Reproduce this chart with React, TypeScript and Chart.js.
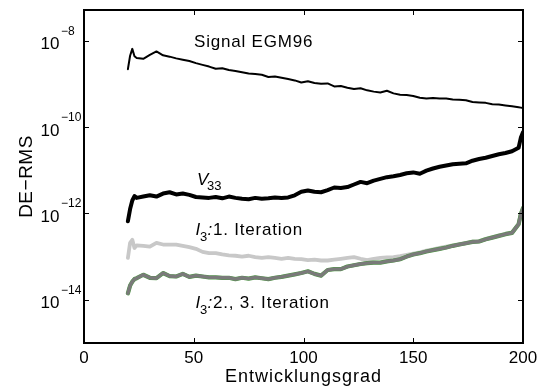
import React, { useEffect, useRef } from "react";
import { Chart, registerables } from "chart.js";

Chart.register(...registerables);

// Spherical-harmonic degree (Entwicklungsgrad)
const degrees = [
  20, 21, 22, 23,
  24, 27, 30, 33, 36, 39,
  42, 45, 48, 51, 54, 57,
  60, 63, 66, 69, 72, 75,
  78, 81, 84, 87, 90, 93,
  96, 99, 102, 105, 108, 111,
  114, 117, 120, 123, 126, 129,
  132, 135, 138, 141, 144, 147,
  150, 153, 156, 159, 162, 165,
  168, 171, 174, 177, 180, 183,
  186, 189, 192, 195, 198,
  199, 200,
];

// log10 of DE-RMS
const signalEGM96Exp = [
  -8.66, -8.35, -8.19, -8.36,
  -8.40, -8.42, -8.33, -8.25, -8.34, -8.37,
  -8.41, -8.44, -8.47, -8.52, -8.56, -8.60,
  -8.65, -8.64, -8.68, -8.70, -8.73, -8.76,
  -8.77, -8.79, -8.84, -8.83, -8.86, -8.89,
  -8.92, -8.97, -8.94, -8.98, -9.00, -8.99,
  -9.06, -9.05, -9.09, -9.12, -9.10, -9.15,
  -9.18, -9.20, -9.16, -9.22, -9.25, -9.26,
  -9.28, -9.32, -9.34, -9.33, -9.34, -9.34,
  -9.36, -9.37, -9.38, -9.42, -9.43, -9.44,
  -9.47, -9.48, -9.50, -9.52, -9.54,
  -9.55, -9.56,
];

const v33Exp = [
  -12.18, -11.90, -11.70, -11.60,
  -11.64, -11.61, -11.58, -11.61, -11.54, -11.51,
  -11.56, -11.54, -11.57, -11.62, -11.63, -11.64,
  -11.62, -11.65, -11.61, -11.64, -11.66, -11.67,
  -11.64, -11.66, -11.65, -11.63, -11.64, -11.63,
  -11.58, -11.50, -11.47, -11.50, -11.51, -11.46,
  -11.40, -11.41, -11.39, -11.33, -11.27, -11.30,
  -11.24, -11.20, -11.16, -11.14, -11.11, -11.07,
  -11.05, -11.08, -11.01, -10.96, -10.92, -10.89,
  -10.86, -10.85, -10.84, -10.78, -10.74, -10.71,
  -10.67, -10.63, -10.60, -10.56, -10.48,
  -10.25, -10.12,
];

const i3Iter1Exp = [
  -13.03, -12.68, -12.61, -12.80,
  -12.74, -12.75, -12.77, -12.68, -12.72, -12.72,
  -12.72, -12.75, -12.78, -12.82, -12.89, -12.92,
  -12.92, -12.95, -12.97, -12.98, -13.00, -12.98,
  -13.01, -13.03, -13.01, -13.03, -13.05, -13.03,
  -13.05, -13.06, -13.08, -13.07, -13.09, -13.09,
  -13.07, -13.05, -13.03, -13.01, -13.05, -13.08,
  -13.05, -13.03, -13.02, -13.01, -12.99, -12.96,
  -12.93, -12.90, -12.86, -12.83, -12.80, -12.77,
  -12.74, -12.71, -12.68, -12.65, -12.64, -12.59,
  -12.55, -12.51, -12.47, -12.44, -12.24,
  -12.01, -11.87,
];

const i3Iter2Exp = [
  -13.85, -13.67, -13.58, -13.52,
  -13.50, -13.42, -13.49, -13.50, -13.38, -13.45,
  -13.46, -13.40, -13.47, -13.44, -13.46, -13.48,
  -13.48, -13.49, -13.49, -13.52, -13.49, -13.51,
  -13.48, -13.50, -13.52, -13.49, -13.47, -13.44,
  -13.41, -13.38, -13.34, -13.40, -13.44, -13.31,
  -13.29, -13.29, -13.23, -13.20, -13.17, -13.15,
  -13.14, -13.14, -13.11, -13.09, -13.06, -13.00,
  -12.95, -12.92, -12.88, -12.85, -12.82, -12.79,
  -12.75, -12.72, -12.69, -12.66, -12.65, -12.60,
  -12.56, -12.52, -12.48, -12.45, -12.25,
  -12.02, -11.88,
];

const i3Iter3Exp = [
  -13.85, -13.67, -13.58, -13.52,
  -13.50, -13.42, -13.49, -13.50, -13.38, -13.45,
  -13.46, -13.40, -13.47, -13.44, -13.46, -13.48,
  -13.48, -13.49, -13.49, -13.52, -13.49, -13.51,
  -13.48, -13.50, -13.52, -13.49, -13.47, -13.44,
  -13.41, -13.38, -13.34, -13.40, -13.44, -13.31,
  -13.29, -13.29, -13.23, -13.20, -13.17, -13.15,
  -13.14, -13.14, -13.11, -13.09, -13.06, -13.00,
  -12.95, -12.92, -12.88, -12.85, -12.82, -12.79,
  -12.75, -12.72, -12.69, -12.66, -12.65, -12.60,
  -12.56, -12.52, -12.48, -12.45, -12.25,
  -12.02, -11.88,
];

const xTicks = [0, 50, 100, 150, 200];
const yTickExps = [-8, -10, -12, -14];
const X_MIN = 0;
const X_MAX = 200;
const Y_MIN_EXP = -15;
const Y_MAX_EXP = -7.29;

const FONT = '"Liberation Sans", Arial, Helvetica, sans-serif';

function toPoints(exps: number[]) {
  return degrees.map((d, i) => ({ x: d, y: Math.pow(10, exps[i]) }));
}

const overlayPlugin = {
  id: "overlay",
  afterDraw(chart: any) {
    const { ctx, chartArea: a, scales } = chart;
    const xs = scales.x;
    const ys = scales.y;
    ctx.save();
    ctx.fillStyle = "#000";
    ctx.strokeStyle = "#000";

    // tick marks (inside, on all four sides)
    ctx.lineWidth = 1;
    const TL = 5;
    xTicks.forEach((v) => {
      const px = Math.round(xs.getPixelForValue(v)) + 0.5;
      ctx.beginPath();
      ctx.moveTo(px, a.bottom);
      ctx.lineTo(px, a.bottom - TL);
      ctx.moveTo(px, a.top);
      ctx.lineTo(px, a.top + TL);
      ctx.stroke();
    });
    yTickExps.forEach((e) => {
      const py = Math.round(ys.getPixelForValue(Math.pow(10, e))) + 0.5;
      ctx.beginPath();
      ctx.moveTo(a.left, py);
      ctx.lineTo(a.left + TL, py);
      ctx.moveTo(a.right, py);
      ctx.lineTo(a.right - TL, py);
      ctx.stroke();
    });

    // frame
    ctx.lineWidth = 2;
    ctx.strokeRect(a.left, a.top, a.right - a.left, a.bottom - a.top);

    // x tick labels
    ctx.font = `17px ${FONT}`;
    ctx.textAlign = "center";
    ctx.textBaseline = "alphabetic";
    xTicks.forEach((v) => {
      ctx.fillText(String(v), xs.getPixelForValue(v), a.bottom + 19.5);
    });

    // y tick labels 10^e
    yTickExps.forEach((e) => {
      const py = ys.getPixelForValue(Math.pow(10, e));
      ctx.font = `17px ${FONT}`;
      ctx.textAlign = "right";
      ctx.fillText("10", a.left - 24.5, py + 8.5);
      ctx.font = `12px ${FONT}`;
      ctx.textAlign = "left";
      ctx.fillText("\u2212" + String(Math.abs(e)), a.left - 23, py - 6);
    });

    // axis titles
    ctx.font = `18px ${FONT}`;
    ctx.textAlign = "center";
    (ctx as any).letterSpacing = "1px";
    ctx.fillText("Entwicklungsgrad", (a.left + a.right) / 2, 381.5);

    ctx.save();
    ctx.translate(32, (a.top + a.bottom) / 2);
    ctx.rotate(-Math.PI / 2);
    ctx.font = `19px ${FONT}`;
    (ctx as any).letterSpacing = "0.5px";
    ctx.fillText("DE\u2212RMS", 0, 0);
    ctx.restore();

    // annotations
    ctx.textAlign = "left";
    (ctx as any).letterSpacing = "0.8px";
    ctx.font = `17px ${FONT}`;
    ctx.fillText("Signal EGM96", 194, 47);

    // V33
    (ctx as any).letterSpacing = "0px";
    ctx.font = `italic 17px ${FONT}`;
    ctx.fillText("V", 197, 185);
    ctx.font = `13px ${FONT}`;
    ctx.fillText("33", 207, 190);

    const iLabel = (base: number, rest: string) => {
      (ctx as any).letterSpacing = "0px";
      ctx.font = `italic 17px ${FONT}`;
      ctx.fillText("I", 195.5, base);
      ctx.font = `13px ${FONT}`;
      ctx.fillText("3", 200, base + 5.5);
      ctx.font = `italic 17px ${FONT}`;
      ctx.fillText(":", 207.5, base);
      (ctx as any).letterSpacing = "0.8px";
      ctx.font = `17px ${FONT}`;
      ctx.fillText(rest, 213, base);
    };
    iLabel(235, "1. Iteration");
    iLabel(308.3, "2., 3. Iteration");

    ctx.restore();
  },
};

export default function App() {
  const canvasRef = useRef<HTMLCanvasElement | null>(null);

  useEffect(() => {
    document.body.style.margin = "0";
    const canvas = canvasRef.current;
    if (!canvas) return;
    const chart = new Chart(canvas, {
      type: "line",
      data: {
        datasets: [
          {
            label: "Signal EGM96",
            data: toPoints(signalEGM96Exp),
            borderColor: "#000000",
            borderWidth: 2,
            order: 1,
          },
          {
            label: "V33",
            data: toPoints(v33Exp),
            borderColor: "#000000",
            borderWidth: 4,
            order: 2,
          },
          {
            label: "I3: 2. Iteration",
            data: toPoints(i3Iter2Exp),
            borderColor: "#7a7a7a",
            borderWidth: 3.4,
            order: 3,
          },
          {
            label: "I3: 3. Iteration",
            data: toPoints(i3Iter3Exp),
            borderColor: "#4f9a45",
            borderWidth: 4.2,
            order: 4,
          },
          {
            label: "I3: 1. Iteration",
            data: toPoints(i3Iter1Exp),
            borderColor: "#c8c8c8",
            borderWidth: 3.8,
            order: 5,
          },
        ],
      },
      options: {
        responsive: false,
        animation: false,
        devicePixelRatio: 1,
        events: [],
        layout: { padding: { left: 84, right: 21, top: 10, bottom: 44 } },
        plugins: {
          legend: { display: false },
          tooltip: { enabled: false },
        },
        elements: {
          point: { radius: 0 },
          line: { tension: 0, borderJoinStyle: "round", borderCapStyle: "round" },
        },
        scales: {
          x: { type: "linear", min: X_MIN, max: X_MAX, display: false },
          y: {
            type: "logarithmic",
            min: Math.pow(10, Y_MIN_EXP),
            max: Math.pow(10, Y_MAX_EXP),
            display: false,
          },
        },
      },
      plugins: [overlayPlugin],
    });
    return () => chart.destroy();
  }, []);

  return (
    <div style={{ width: 544, height: 387, background: "#fff" }}>
      <canvas ref={canvasRef} width={544} height={387} style={{ display: "block" }} />
    </div>
  );
}
